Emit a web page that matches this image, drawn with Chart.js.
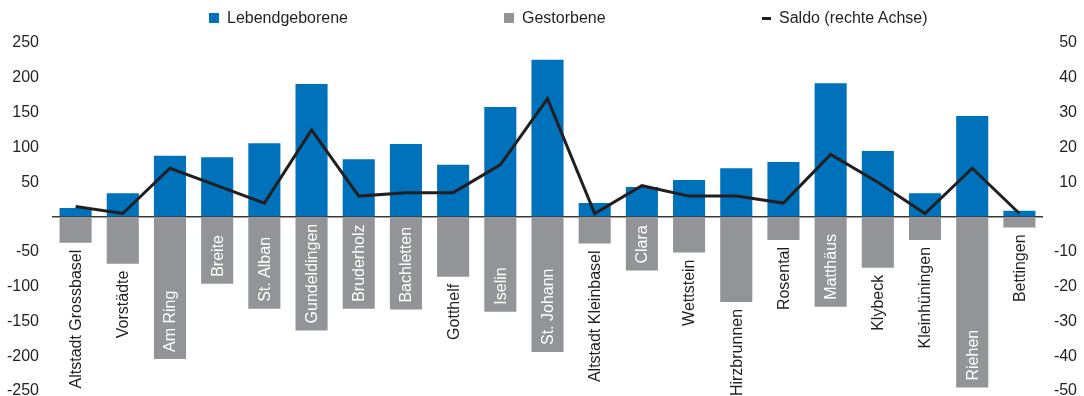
<!DOCTYPE html>
<html lang="de">

<head>
    <meta charset="UTF-8">
    <meta name="viewport" content="width=device-width, initial-scale=1.0">
    <title>Geburten und Todesfälle nach Wohnviertel</title>
    <script src="https://cdn.jsdelivr.net/npm/chart.js"></script>
    <style>
        html, body {
            margin: 0;
            padding: 0;
            background: #fff;
            overflow: hidden;
        }

        .chart-box {
            position: relative;
            width: 1084px;
            height: 396px;
        }

        .legend {
            position: absolute;
            top: 0;
            left: 0;
            width: 100%;
            height: 34px;
            font-family: "Liberation Sans", Arial, sans-serif;
            font-size: 16px;
            color: #231f20;
        }

        .legend-item {
            position: absolute;
            top: 9px;
            display: flex;
            align-items: center;
            height: 18px;
            white-space: nowrap;
        }

        .legend-mark {
            display: inline-block;
            margin-right: 8px;
        }
    </style>
</head>

<body>
    <div class="chart-box">
        <canvas id="chart" width="1084" height="396"></canvas>
        <div class="legend" id="legend"></div>
    </div>

    <script>
        // Wohnviertel
        const quartiere = [
            'Altstadt Grossbasel', 'Vorstädte', 'Am Ring', 'Breite', 'St. Alban',
            'Gundeldingen', 'Bruderholz', 'Bachletten', 'Gotthelf', 'Iselin',
            'St. Johann', 'Altstadt Kleinbasel', 'Clara', 'Wettstein', 'Hirzbrunnen',
            'Rosental', 'Matthäus', 'Klybeck', 'Kleinhüningen', 'Riehen', 'Bettingen'
        ];

        const lebendgeborene = [13, 34, 88, 86, 106, 191, 83, 105, 75, 158, 226, 20, 43, 53, 70, 79, 192, 95, 34, 145, 9];
        const gestorbene = [-37, -67, -204, -96, -132, -163, -132, -133, -86, -136, -194, -38, -77, -51, -122, -33, -129, -73, -33, -245, -15];
        const saldo = [3, 1, 14, 9, 4, 25, 6, 7, 7, 15, 34, 1, 9, 6, 6, 4, 18, 10, 1, 14, 1];

        // Achsen
        const linksTicks = [-250, -200, -150, -100, -50, 0, 50, 100, 150, 200, 250];
        const rechtsTicks = [-50, -40, -30, -20, -10, 0, 10, 20, 30, 40, 50];

        const seriesNames = ['Lebendgeborene', 'Gestorbene', 'Saldo (rechte Achse)'];

        const BLAU = '#0072bc';
        const GRAU = '#929497';
        const SCHWARZ = '#231f20';
        const FONT = '"Liberation Sans", Arial, sans-serif';

        Chart.defaults.font.family = FONT;
        Chart.defaults.font.size = 16;
        Chart.defaults.color = SCHWARZ;

        // Quartiernamen senkrecht an den grauen Balken: innen wenn Platz, sonst darunter
        const quartierLabels = {
            id: 'quartierLabels',
            afterDatasetsDraw(chart) {
                const ctx = chart.ctx;
                const meta = chart.getDatasetMeta(1);
                const abstand = 7;
                ctx.save();
                ctx.font = '16px ' + FONT;
                ctx.textBaseline = 'middle';
                meta.data.forEach((bar, i) => {
                    const text = quartiere[i];
                    const laenge = bar.y - bar.base;
                    const breite = ctx.measureText(text).width;
                    ctx.save();
                    if (breite + abstand + 2 <= laenge) {
                        ctx.translate(bar.x, bar.y - abstand);
                        ctx.rotate(-Math.PI / 2);
                        ctx.textAlign = 'left';
                        ctx.fillStyle = '#ffffff';
                    } else {
                        ctx.translate(bar.x, bar.y + abstand);
                        ctx.rotate(-Math.PI / 2);
                        ctx.textAlign = 'right';
                        ctx.fillStyle = SCHWARZ;
                    }
                    ctx.fillText(text, 0, 1);
                    ctx.restore();
                });
                ctx.restore();
            }
        };

        // feste Achsenbreiten, keine Zusatzabstände oben/unten
        function fixAxis(breite) {
            return axis => {
                axis.width = breite;
                axis.paddingTop = 0;
                axis.paddingBottom = 0;
            };
        }

        const ctx = document.getElementById('chart').getContext('2d');
        const chart = new Chart(ctx, {
            type: 'bar',
            data: {
                labels: quartiere,
                datasets: [
                    {
                        label: seriesNames[0],
                        data: lebendgeborene,
                        backgroundColor: BLAU,
                        yAxisID: 'y',
                        order: 2
                    },
                    {
                        label: seriesNames[1],
                        data: gestorbene,
                        backgroundColor: GRAU,
                        yAxisID: 'y',
                        order: 1
                    },
                    {
                        type: 'line',
                        label: seriesNames[2],
                        data: saldo,
                        borderColor: SCHWARZ,
                        backgroundColor: SCHWARZ,
                        borderWidth: 3,
                        pointRadius: 0,
                        tension: 0,
                        yAxisID: 'y2',
                        order: 0
                    }
                ]
            },
            options: {
                responsive: false,
                animation: false,
                categoryPercentage: 1,
                barPercentage: 0.68,
                layout: {
                    autoPadding: false,
                    padding: { top: 43, bottom: 5, left: 7, right: 7 }
                },
                plugins: {
                    legend: { display: false },
                    tooltip: { enabled: false }
                },
                scales: {
                    x: {
                        display: false,
                        stacked: true
                    },
                    y: {
                        position: 'left',
                        stacked: true,
                        min: -250,
                        max: 250,
                        z: 1,
                        afterBuildTicks: axis => {
                            axis.ticks = linksTicks.map(v => ({ value: v }));
                        },
                        afterFit: fixAxis(45),
                        ticks: {
                            padding: 13,
                            callback: v => v === 0 ? '' : v
                        },
                        grid: {
                            drawTicks: false,
                            lineWidth: 1.5,
                            color: c => c.tick && c.tick.value === 0 ? '#3a3a3a' : 'transparent'
                        },
                        border: { display: false }
                    },
                    y2: {
                        position: 'right',
                        min: -50,
                        max: 50,
                        afterBuildTicks: axis => {
                            axis.ticks = rechtsTicks.map(v => ({ value: v }));
                        },
                        afterFit: fixAxis(34),
                        ticks: {
                            padding: 11,
                            crossAlign: 'far',
                            callback: v => v === 0 ? '' : v
                        },
                        grid: { display: false },
                        border: { display: false }
                    }
                }
            },
            plugins: [quartierLabels]
        });

        // Legende oben
        const legendLeft = [209, 504, 762];
        const legend = document.getElementById('legend');
        chart.data.datasets.forEach((ds, i) => {
            const item = document.createElement('div');
            item.className = 'legend-item';
            item.style.left = legendLeft[i] + 'px';
            const mark = document.createElement('span');
            mark.className = 'legend-mark';
            mark.style.background = ds.type === 'line' ? ds.borderColor : ds.backgroundColor;
            mark.style.width = ds.type === 'line' ? '9px' : '10px';
            mark.style.height = ds.type === 'line' ? '3px' : '10px';
            item.appendChild(mark);
            const text = document.createElement('span');
            text.textContent = ds.label;
            item.appendChild(text);
            legend.appendChild(item);
        });
    </script>
</body>

</html>
